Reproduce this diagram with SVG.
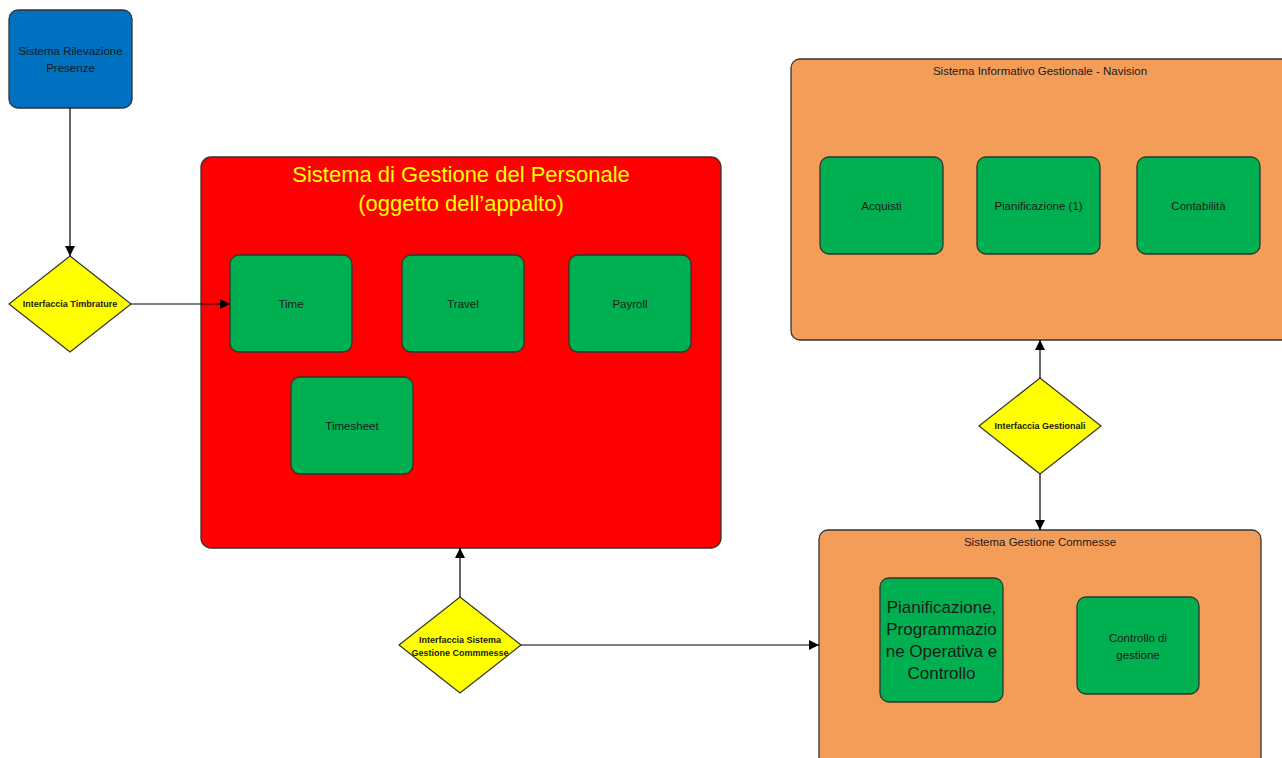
<svg xmlns="http://www.w3.org/2000/svg" width="1282" height="758" viewBox="0 0 1282 758">
<defs>
<marker id="arr" viewBox="0 0 10 10" refX="10" refY="5" markerWidth="10" markerHeight="10" markerUnits="userSpaceOnUse" orient="auto">
<path d="M0,0 L10,5 L0,10 z" fill="#000"/>
</marker>
<style>
.box{stroke:#333;stroke-width:1.3}
.blue{fill:#0070C0}
.red{fill:#FF0000}
.green{fill:#00B050}
.orange{fill:#F49D59}
.dia{fill:#FFFF00;stroke:#333;stroke-width:1.2}
text{font-family:"Liberation Sans",Arial,sans-serif;text-anchor:middle;fill:#1a1a1a}
.s{font-size:11.5px}
.d{font-size:9px;font-weight:bold}
.big{font-size:22px;fill:#FFFF00}
.m{font-size:17px}
.conn{stroke:#000;stroke-width:1.2;fill:none}
</style>
</defs>
<g id="n-rilevazione">
<rect class="box blue" x="9" y="10" width="123" height="98" rx="9"/>
<text class="s" x="70.5" y="55">Sistema Rilevazione</text>
<text class="s" x="70.5" y="72">Presenze</text>
</g>
<g id="n-personale">
<rect class="box red" x="201" y="157" width="520" height="391" rx="10"/>
<text class="big" x="461" y="182">Sistema di Gestione del Personale</text>
<text class="big" x="461" y="211">(oggetto dell’appalto)</text>
</g>
<g id="n-time"><rect class="box green" x="230" y="255" width="122" height="97" rx="9"/><text class="s" x="291" y="308">Time</text></g>
<g id="n-travel"><rect class="box green" x="402" y="255" width="122" height="97" rx="9"/><text class="s" x="463" y="308">Travel</text></g>
<g id="n-payroll"><rect class="box green" x="569" y="255" width="122" height="97" rx="9"/><text class="s" x="630" y="308">Payroll</text></g>
<g id="n-timesheet"><rect class="box green" x="291" y="377" width="122" height="97" rx="9"/><text class="s" x="352" y="430">Timesheet</text></g>
<g id="n-navision">
<rect class="box orange" x="791" y="59" width="500" height="281" rx="9"/>
<text class="s" x="1040" y="75">Sistema Informativo Gestionale - Navision</text>
</g>
<g id="n-acquisti"><rect class="box green" x="820" y="157" width="123" height="97" rx="9"/><text class="s" x="881.5" y="210">Acquisti</text></g>
<g id="n-pianificazione1"><rect class="box green" x="977" y="157" width="123" height="97" rx="9"/><text class="s" x="1038.5" y="210">Pianificazione (1)</text></g>
<g id="n-contabilita"><rect class="box green" x="1137" y="157" width="123" height="97" rx="9"/><text class="s" x="1198.5" y="210">Contabilità</text></g>
<g id="n-commesse">
<rect class="box orange" x="819" y="530" width="442" height="240" rx="9"/>
<text class="s" x="1040" y="546">Sistema Gestione Commesse</text>
</g>
<g id="n-pianprog"><rect class="box green" x="880" y="578" width="123" height="124" rx="9"/>
<text class="m" x="941.5" y="613">Pianificazione,</text>
<text class="m" x="941.5" y="635">Programmazio</text>
<text class="m" x="941.5" y="657">ne Operativa e</text>
<text class="m" x="941.5" y="679">Controllo</text>
</g>
<g id="n-controllo"><rect class="box green" x="1077" y="597" width="122" height="97" rx="9"/>
<text class="s" x="1138" y="642">Controllo di</text>
<text class="s" x="1138" y="659">gestione</text>
</g>
<g id="n-int-timbrature"><polygon class="dia" points="70,256 131,304 70,352 9,304"/><text class="d" x="70" y="307">Interfaccia Timbrature</text></g>
<g id="n-int-commesse"><polygon class="dia" points="460,597 521,645 460,693 399,645"/>
<text class="d" x="460" y="643">Interfaccia Sistema</text>
<text class="d" x="460" y="656">Gestione Commmesse</text>
</g>
<g id="n-int-gestionali"><polygon class="dia" points="1040,378 1101,426 1040,474 979,426"/><text class="d" x="1040" y="429">Interfaccia Gestionali</text></g>
<g id="connectors">
<path class="conn" d="M70,108 V256" marker-end="url(#arr)"/>
<path class="conn" d="M131,304 H230" marker-end="url(#arr)"/>
<path class="conn" d="M460,597 V548" marker-end="url(#arr)"/>
<path class="conn" d="M521,645 H819" marker-end="url(#arr)"/>
<path class="conn" d="M1040,378 V340" marker-end="url(#arr)"/>
<path class="conn" d="M1040,474 V530" marker-end="url(#arr)"/>
</g>
</svg>
